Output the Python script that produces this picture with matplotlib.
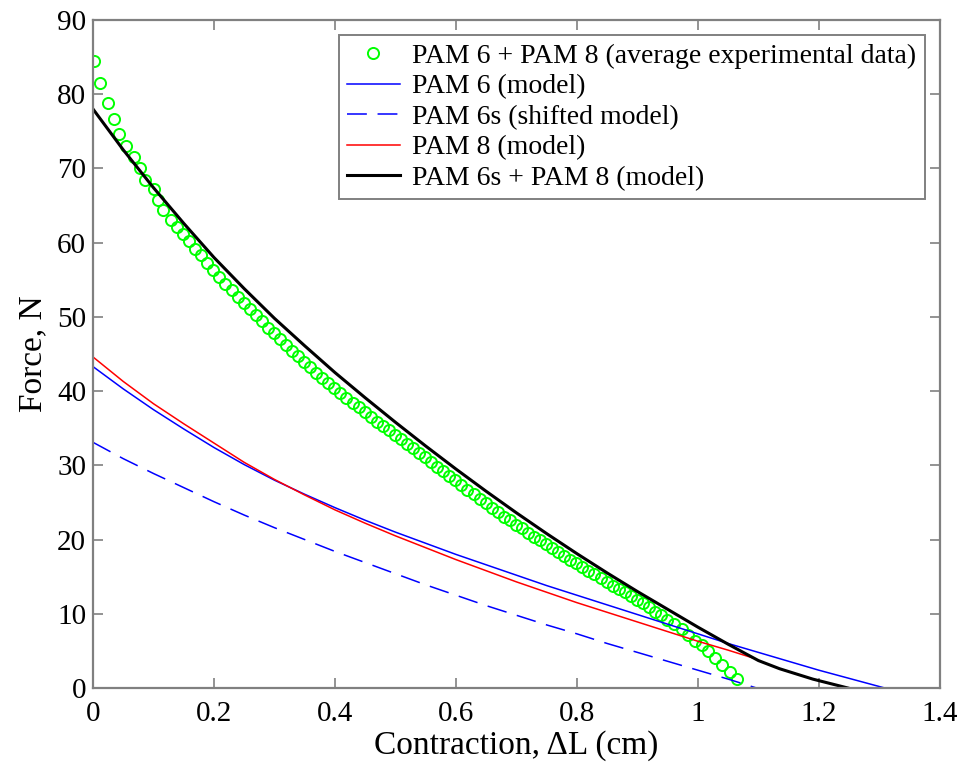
import matplotlib
matplotlib.use("Agg")
import matplotlib.pyplot as plt

# average experimental data (PAM 6 + PAM 8)
exp_x = [0.002, 0.011, 0.024, 0.034, 0.043, 0.054, 0.068, 0.078, 0.086, 0.100,
         0.107, 0.115, 0.129, 0.139, 0.149, 0.159, 0.169, 0.179, 0.189, 0.199,
         0.209, 0.219, 0.229, 0.239, 0.249, 0.259, 0.269, 0.279, 0.289, 0.299,
         0.309, 0.319, 0.329, 0.339, 0.349, 0.359, 0.369, 0.379, 0.389, 0.399,
         0.409, 0.419, 0.429, 0.439, 0.449, 0.459, 0.469, 0.479, 0.489, 0.499,
         0.509, 0.519, 0.529, 0.539, 0.549, 0.559, 0.569, 0.579, 0.589, 0.599,
         0.609, 0.619, 0.629, 0.639, 0.649, 0.659, 0.669, 0.679, 0.689, 0.699,
         0.709, 0.719, 0.729, 0.739, 0.749, 0.759, 0.769, 0.779, 0.789, 0.799,
         0.809, 0.819, 0.829, 0.839, 0.849, 0.859, 0.869, 0.879, 0.889, 0.899,
         0.909, 0.919, 0.929, 0.939, 0.949, 0.960, 0.973, 0.984, 0.995, 1.006,
         1.017, 1.028, 1.039, 1.053, 1.064]
exp_y = [84.5, 81.5, 78.8, 76.7, 74.6, 73.0, 71.5, 70.1, 68.5, 67.2,
         65.8, 64.4, 63.1, 62.1, 61.2, 60.2, 59.2, 58.3, 57.3, 56.3,
         55.4, 54.4, 53.6, 52.7, 51.9, 51.0, 50.2, 49.4, 48.5, 47.8,
         47.0, 46.2, 45.4, 44.7, 43.9, 43.2, 42.5, 41.8, 41.1, 40.4,
         39.7, 39.1, 38.4, 37.8, 37.2, 36.5, 35.9, 35.3, 34.7, 34.1,
         33.5, 32.9, 32.3, 31.7, 31.1, 30.4, 29.8, 29.2, 28.6, 28.0,
         27.4, 26.7, 26.1, 25.5, 24.9, 24.3, 23.7, 23.1, 22.6, 22.0,
         21.5, 20.9, 20.4, 19.9, 19.4, 18.8, 18.3, 17.8, 17.3, 16.8,
         16.3, 15.8, 15.3, 14.8, 14.3, 13.8, 13.4, 12.9, 12.4, 11.9,
         11.4, 10.9, 10.3, 9.8, 9.2, 8.6, 7.9, 7.1, 6.4, 5.8,
         5.0, 4.1, 3.1, 2.2, 1.2]

# PAM 6 (model)
pam6_x = [0, 0.05, 0.1, 0.15, 0.2, 0.25, 0.3, 0.35, 0.4, 0.45, 0.5, 0.55, 0.6,
          0.65, 0.7, 0.75, 0.8, 0.85, 0.9, 0.95, 1.0, 1.05, 1.1, 1.15, 1.2, 1.25, 1.309]
pam6_y = [43.3, 40.3, 37.5, 34.9, 32.4, 30.1, 28.0, 26.1, 24.3, 22.6, 21.0, 19.5, 18.0,
          16.6, 15.2, 13.8, 12.5, 11.2, 9.9, 8.6, 7.3, 6.0, 4.8, 3.6, 2.4, 1.3, 0]

# PAM 6s (shifted model)
pam6s_x = [0, 0.05, 0.1, 0.15, 0.2, 0.25, 0.3, 0.35, 0.4, 0.45, 0.5, 0.55, 0.6,
           0.65, 0.7, 0.75, 0.8, 0.85, 0.9, 0.95, 1.0, 1.05, 1.097]
pam6s_y = [33.1, 30.9, 28.9, 27.0, 25.1, 23.3, 21.6, 20.0, 18.4, 16.9, 15.4, 13.9, 12.5,
           11.1, 9.8, 8.5, 7.3, 6.0, 4.8, 3.6, 2.4, 1.2, 0]

# PAM 8 (model)
pam8_x = [0, 0.05, 0.1, 0.15, 0.2, 0.25, 0.3, 0.35, 0.4, 0.45, 0.5, 0.55, 0.6,
          0.65, 0.7, 0.75, 0.8, 0.85, 0.9, 0.95, 1.0, 1.05, 1.089]
pam8_y = [44.6, 41.3, 38.3, 35.6, 33.0, 30.4, 28.1, 26.0, 24.0, 22.2, 20.5, 18.9, 17.3,
          15.8, 14.3, 12.9, 11.5, 10.2, 8.9, 7.6, 6.3, 5.1, 4.1]

# PAM 6s + PAM 8 (model)
sum_x = [0, 0.05, 0.1, 0.15, 0.2, 0.25, 0.3, 0.35, 0.4, 0.45, 0.5, 0.55, 0.6,
         0.65, 0.7, 0.75, 0.8, 0.85, 0.9, 0.95, 1.0, 1.05, 1.1, 1.135, 1.19, 1.248]
sum_y = [78.0, 72.5, 67.4, 62.6, 58.0, 53.8, 49.8, 46.1, 42.5, 39.1, 35.8, 32.6, 29.5,
         26.5, 23.6, 20.8, 18.1, 15.5, 13.0, 10.6, 8.2, 5.9, 3.7, 2.6, 1.2, 0]

plt.rcParams['font.family'] = ['Liberation Serif', 'DejaVu Serif']

fig = plt.figure(figsize=(9.62, 7.69), dpi=100)
ax = fig.add_axes([0.0967, 0.1053, 0.8803, 0.8687])

ax.plot(exp_x, exp_y, 'o', mfc='none', mec=(0, 1, 0), ms=8, mew=1.4,
        label='PAM 6 + PAM 8 (average experimental data)')
ax.plot(pam6_x, pam6_y, '-', color='blue', lw=1.1, label='PAM 6 (model)')
ax.plot(pam6s_x, pam6s_y, '--', color='blue', lw=1.1, dashes=(13, 7),
        label='PAM 6s (shifted model)')
ax.plot(pam8_x, pam8_y, '-', color='red', lw=1.1, label='PAM 8 (model)')
ax.plot(sum_x, sum_y, '-', color='black', lw=2.2, label='PAM 6s + PAM 8 (model)')

ax.set_xlim(0, 1.4)
ax.set_ylim(0, 90)
ax.set_xticks([0, 0.2, 0.4, 0.6, 0.8, 1, 1.2, 1.4])
ax.set_xticklabels(['0', '0.2', '0.4', '0.6', '0.8', '1', '1.2', '1.4'])
ax.set_yticks(range(0, 91, 10))

for s in ax.spines.values():
    s.set_color('#808080')
    s.set_linewidth(1.6)
ax.tick_params(direction='in', length=7, width=1.2, color='#808080',
               labelsize=21, top=True, right=True, pad=5)
ax.tick_params(axis='x', pad=9)

ax.set_xlabel('Contraction, ΔL (cm)', fontsize=24, labelpad=3)
ax.set_ylabel('Force, N', fontsize=24, labelpad=6)

leg = ax.legend(loc='upper right', fontsize=20, handlelength=1.9,
                handletextpad=0.45, labelspacing=0.18, borderpad=0.3,
                borderaxespad=0.55, fancybox=False, framealpha=1)
leg.get_frame().set_edgecolor('#808080')
leg.get_frame().set_linewidth(1.4)

fig.savefig('out.png', dpi=100)
